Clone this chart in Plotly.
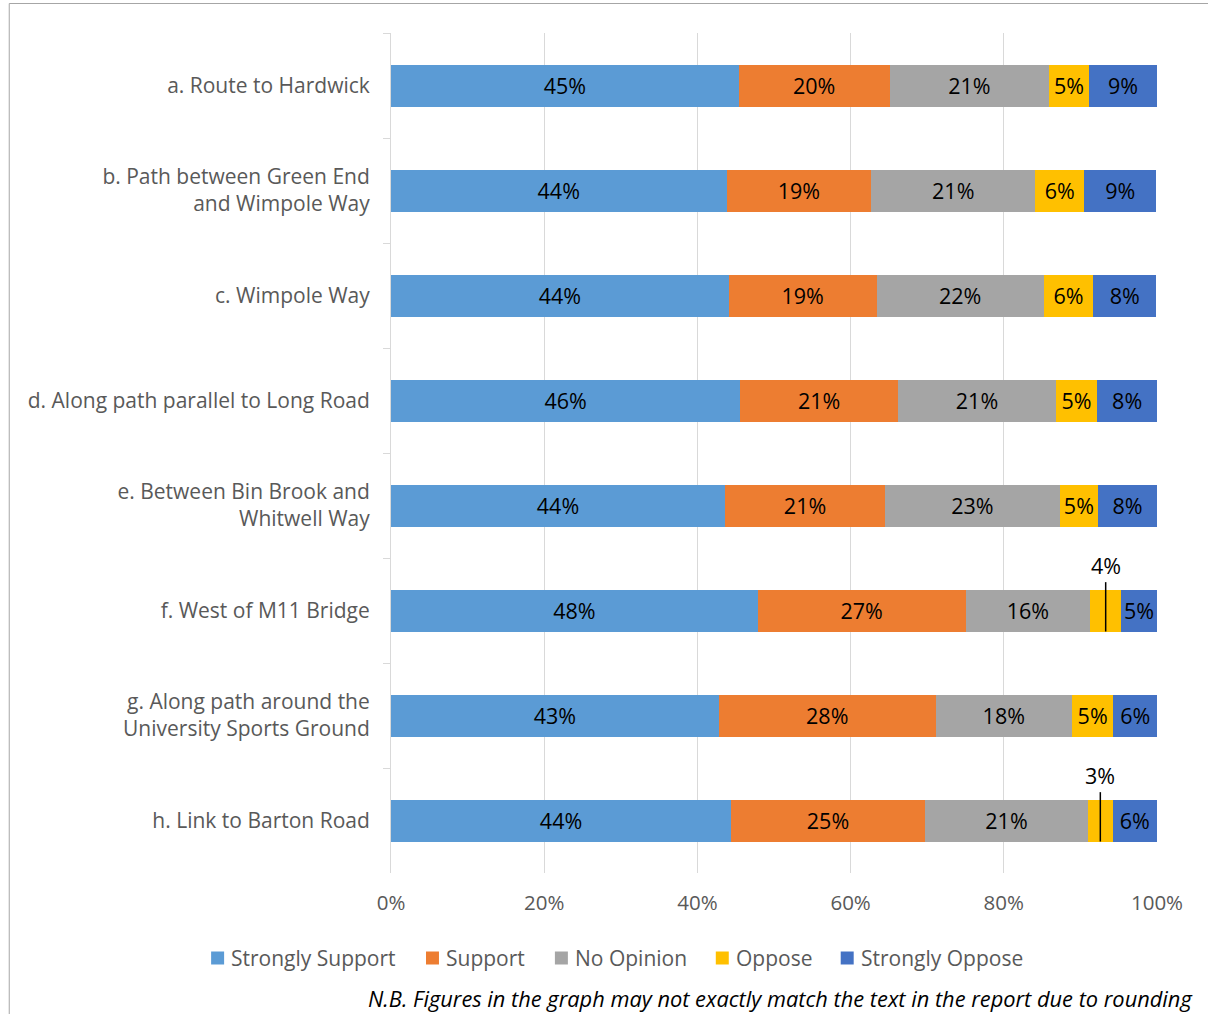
import plotly.graph_objects as go

# Route sections (top to bottom)
sections = [
    "a. Route to Hardwick",
    "b. Path between Green End<br>and Wimpole Way",
    "c. Wimpole Way",
    "d. Along path parallel to Long Road",
    "e. Between Bin Brook and<br>Whitwell Way",
    "f. West of M11 Bridge",
    "g. Along path around the<br>University Sports Ground",
    "h. Link to Barton Road",
]

# Share of responses (%) per section
strongly_support = [45.4, 43.8, 44.1, 45.6, 43.6, 47.9, 42.8, 44.4]
support          = [19.7, 18.9, 19.3, 20.6, 20.9, 27.1, 28.3, 25.3]
no_opinion       = [20.8, 21.4, 21.8, 20.6, 22.8, 16.3, 17.8, 21.3]
oppose           = [5.2, 6.4, 6.5, 5.4, 5.0, 4.0, 5.4, 3.2]
strongly_oppose  = [8.9, 9.4, 8.2, 7.8, 7.7, 4.7, 5.7, 5.8]

# Percentage axis ticks
x_ticks = [0, 20, 40, 60, 80, 100]
x_tick_labels = [f"{t}%" for t in x_ticks]

series_names = ["Strongly Support", "Support", "No Opinion", "Oppose", "Strongly Oppose"]
series_values = [strongly_support, support, no_opinion, oppose, strongly_oppose]
series_colors = ["#5B9BD5", "#ED7D31", "#A5A5A5", "#FFC000", "#4472C4"]

# Segments too narrow for an inside label get a call-out above the bar
callout_rows = [5, 7]  # indices into sections, for the "Oppose" series

FONT = "Open Sans"
LABEL_GREY = "#595959"
GRID_GREY = "#D9D9D9"

# Plot-area geometry in pixels (used to place the legend, frame and footnote)
W, H = 1208, 1014
L, R, T, B = 391, 50.5, 33, 141
PW, PH = W - L - R, H - T - B


def px_to_paper_x(px):
    return (px - L) / PW


def px_to_paper_y(py):
    return (H - B - py) / PH


fig = go.Figure()
for name, vals, color in zip(series_names, series_values, series_colors):
    texts = []
    for i, v in enumerate(vals):
        if name == "Oppose" and i in callout_rows:
            texts.append("")
        else:
            texts.append(f"{v:.0f}%")
    fig.add_trace(go.Bar(
        name=name,
        y=sections,
        x=vals,
        orientation="h",
        marker=dict(color=color, line=dict(width=0)),
        text=texts,
        textposition="inside",
        insidetextanchor="middle",
        textangle=0,
        textfont=dict(family=FONT, size=21.5, color="#000000"),
        hoverinfo="skip",
        showlegend=False,
    ))

# Call-out labels with leader lines for the narrow "Oppose" segments
for i in callout_rows:
    left = strongly_support[i] + support[i] + no_opinion[i]
    centre = left + oppose[i] / 2
    fig.add_shape(
        type="line", xref="x", yref="y",
        x0=centre, x1=centre, y0=i + 0.2, y1=i - 0.27,
        line=dict(color="#000000", width=1.5),
    )
    fig.add_annotation(
        x=centre, y=i - 0.27, xref="x", yref="y",
        text=f"{oppose[i]:.0f}%", showarrow=False,
        yanchor="bottom", yshift=0,
        font=dict(family=FONT, size=21.5, color="#000000"),
    )

# Legend row: colour square followed by the series name
legend_square_left = [211, 426, 555, 716, 841]
legend_mid_y = 958
sq = 13
for name, color, x0 in zip(series_names, series_colors, legend_square_left):
    fig.add_shape(
        type="rect", xref="paper", yref="paper",
        x0=px_to_paper_x(x0), x1=px_to_paper_x(x0 + sq),
        y0=px_to_paper_y(legend_mid_y + sq / 2), y1=px_to_paper_y(legend_mid_y - sq / 2),
        fillcolor=color, line=dict(width=0),
    )
    fig.add_annotation(
        x=px_to_paper_x(x0 + sq + 5), y=px_to_paper_y(legend_mid_y),
        xref="paper", yref="paper", xanchor="left", yanchor="middle",
        text=name, showarrow=False,
        font=dict(family=FONT, size=21, color=LABEL_GREY),
    )

# Chart frame
fig.add_shape(
    type="path", xref="paper", yref="paper",
    path=f"M {px_to_paper_x(9)},{px_to_paper_y(1100)} L {px_to_paper_x(9)},{px_to_paper_y(3.5)} L {px_to_paper_x(1300)},{px_to_paper_y(3.5)}",
    line=dict(color="#A6A6A6", width=1),
)

# Footnote
fig.add_annotation(
    x=px_to_paper_x(1194), y=px_to_paper_y(1014), xref="paper", yref="paper",
    xanchor="right", yanchor="bottom", showarrow=False,
    text="<i>N.B. Figures in the graph may not exactly match the text in the report due to rounding</i>",
    font=dict(family=FONT, size=21.8, color="#000000"),
    borderpad=0,
)

fig.update_layout(
    width=W, height=H,
    margin=dict(l=L, r=R, t=T, b=B, pad=0),
    barmode="stack",
    bargap=0.6,
    plot_bgcolor="#FFFFFF",
    paper_bgcolor="#FFFFFF",
    font=dict(family=FONT, size=20, color=LABEL_GREY),
    uniformtext=dict(minsize=21.5, mode="show"),
    showlegend=False,
    xaxis=dict(
        range=[0, 100],
        tickvals=x_ticks,
        ticktext=x_tick_labels,
        showgrid=True, gridcolor=GRID_GREY, gridwidth=1,
        zeroline=False, showline=False, ticks="",
        ticklabelstandoff=15,
        tickfont=dict(family=FONT, size=20.5, color=LABEL_GREY),
        fixedrange=True,
    ),
    yaxis=dict(
        categoryorder="array", categoryarray=sections,
        autorange="reversed",
        tickson="boundaries",
        ticks="outside", ticklen=7, tickcolor=GRID_GREY, tickwidth=1,
        showline=True, linecolor=GRID_GREY, linewidth=1,
        showgrid=False,
        ticklabelstandoff=16,
        tickfont=dict(family=FONT, size=21, color=LABEL_GREY),
        fixedrange=True,
    ),
)

fig.write_html("out.html")
